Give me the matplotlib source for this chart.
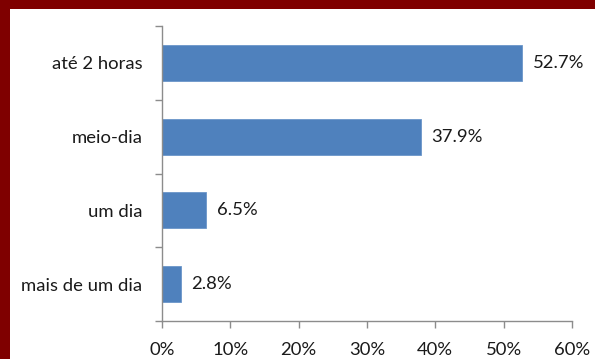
import matplotlib
matplotlib.use("Agg")
import matplotlib.pyplot as plt
from matplotlib.patches import Rectangle
from matplotlib.ticker import FixedLocator

categories = ["até 2 horas", "meio-dia", "um dia", "mais de um dia"]
values = [52.7, 37.9, 6.5, 2.8]
x_ticks = [0, 10, 20, 30, 40, 50, 60]
x_tick_labels = ["0%", "10%", "20%", "30%", "40%", "50%", "60%"]

plt.rcParams["font.family"] = ["Lato", "DejaVu Sans"]
FS = 13.3
TXT = "#1a1a1a"

W, H = 595, 359
fig = plt.figure(figsize=(W / 100, H / 100), dpi=100)
fig.patch.set_facecolor("white")

# maroon frame along the top and left edges
border = "#7f0000"
fig.add_artist(Rectangle((0, 1 - 9 / H), 1, 9 / H, transform=fig.transFigure,
                         facecolor=border, edgecolor="none", zorder=0))
fig.add_artist(Rectangle((0, 0), 10 / W, 1, transform=fig.transFigure,
                         facecolor=border, edgecolor="none", zorder=0))

left, right = 162 / W, 572 / W
top, bottom = 1 - 26 / H, 1 - 321 / H
ax = fig.add_axes([left, bottom, right - left, top - bottom])

n = len(categories)
ypos = list(range(n))[::-1]
ax.barh(ypos, values, height=0.49, color="#4f81bd", edgecolor="#6b96c9",
        linewidth=0.6, zorder=2)

for y, v in zip(ypos, values):
    ax.annotate(f"{v:.1f}%", (v, y), xytext=(7.5, 0), textcoords="offset points",
                va="center", ha="left", fontsize=FS, color=TXT)

ax.set_xlim(0, 60)
ax.set_ylim(-0.5, n - 0.5)
ax.set_xticks(x_ticks)
ax.set_xticklabels(x_tick_labels, fontsize=FS, color=TXT)

ax.set_yticks(ypos)
ax.set_yticklabels(categories, fontsize=FS, color=TXT)
ax.yaxis.set_minor_locator(FixedLocator([i - 0.5 for i in range(n + 1)]))
ax.tick_params(axis="y", which="major", length=0, pad=14)
ax.tick_params(axis="y", which="minor", length=5, width=1, color="#8c8c8c")
ax.tick_params(axis="x", length=5, width=1, color="#8c8c8c", pad=10)

for s in ["top", "right"]:
    ax.spines[s].set_visible(False)
for s in ["left", "bottom"]:
    ax.spines[s].set_color("#8c8c8c")
    ax.spines[s].set_linewidth(1)

fig.savefig("out.png", dpi=100)
